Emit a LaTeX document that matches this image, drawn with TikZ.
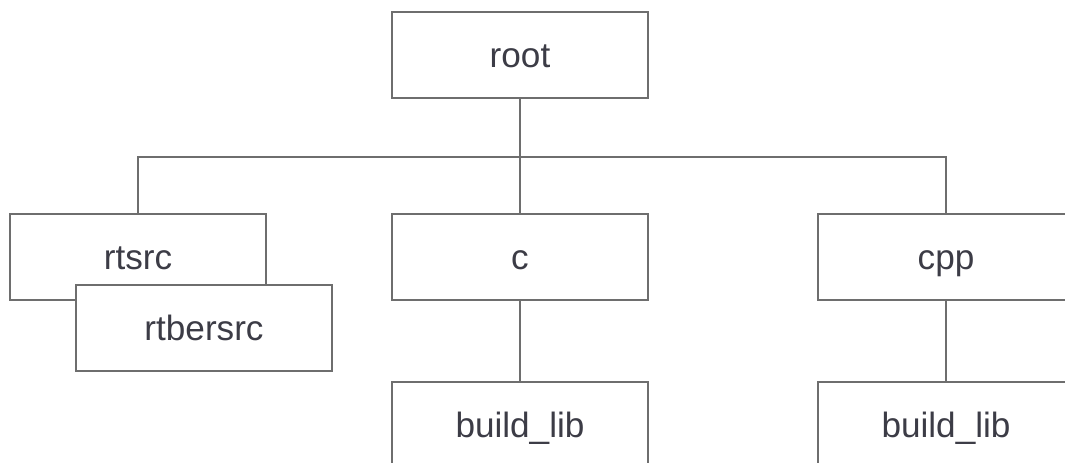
\documentclass[tikz,border=0pt]{standalone}
\usepackage{fontspec}
\setmainfont{Liberation Sans}
\usepackage{tikz}
\definecolor{linegray}{HTML}{6E6E6E}
\definecolor{textgray}{HTML}{3C3C46}
\tikzset{
    dirbox/.style={draw=linegray, fill=white, line width=1.1pt, minimum width=5.12cm, minimum height=1.72cm, inner sep=0pt, text height=0.5cm, text depth=0pt, text=textgray, font=\fontsize{20}{24}\selectfont}, % one folder
    link/.style={draw=linegray, line width=1pt} % tree lines
}
\begin{document}
\begin{tikzpicture}[x=0.02cm, y=-0.02cm]
    \useasboundingbox (0,0) rectangle (1065,463);
    \clip (0,0) rectangle (1065,463);

    \node[dirbox] (root) at (520,55) {root};
    \coordinate (bus) at (520,157);

    \node[dirbox] (rtsrc) at (138,257) {rtsrc};
    \node[dirbox] (rtbersrc) at (204,328) {rtbersrc};
    \node[dirbox] (c) at (520,257) {c};
    \node[dirbox] (cpp) at (946,257) {cpp};
    \node[dirbox] (cbuild) at (520,425) {build\_lib};
    \node[dirbox] (cppbuild) at (946,425) {build\_lib};

    \draw[link] (root) -- (bus);
    \draw[link] (rtsrc.north) |- (bus) -| (cpp.north);
    \draw[link] (bus) -- (c.north);
    \draw[link] (c) -- (cbuild);
    \draw[link] (cpp) -- (cppbuild);
\end{tikzpicture}
\end{document}
